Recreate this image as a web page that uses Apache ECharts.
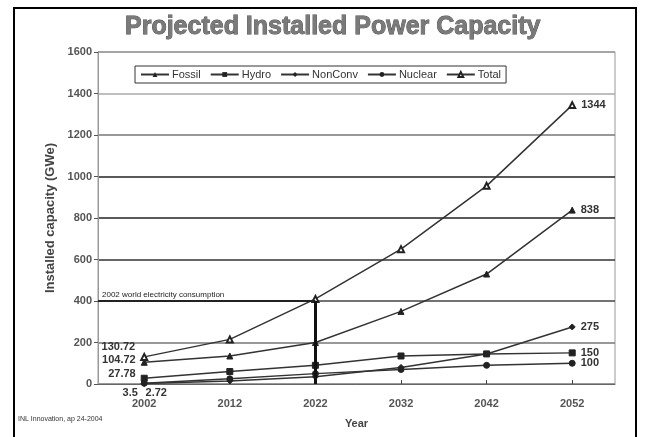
<!DOCTYPE html>
<html>
<head>
<meta charset="utf-8">
<script src="https://cdn.jsdelivr.net/npm/echarts@6/dist/echarts.min.js"></script>
<style>
html, body { margin: 0; padding: 0; background: #fff; }
#ct1 { width: 648px; height: 437px; }
</style>
</head>
<body>
<div id="ct1"></div>
<script>
var years = [2002, 2012, 2022, 2032, 2042, 2052];
var seriesNames = ['Fossil', 'Hydro', 'NonConv', 'Nuclear', 'Total'];
var fossil = [104.72, 135, 200, 350, 530, 838];
var hydro = [27.78, 60, 90, 135, 145, 150];
var nonConv = [2.72, 15, 35, 80, 145, 275];
var nuclear = [3.5, 25, 50, 70, 90, 100];
var total = [130.72, 215, 410, 650, 955, 1344];
var refValue = 400;
var refYear = 2022;
var refText = '2002 world electricity consumption';

var symbols = ['triangle', 'rect', 'diamond', 'circle', 'emptyTriangle'];
var startPos = ['left', 'left', 'bottom', 'bottom', 'left'];
var startOffset = [[0, -2], [0, -4], [12, -4], [-14, -4], [0, -10]];

function mkSeries(name, vals, i) {
	var data = [];
	for (var k = 0; k < years.length; k++) {
		var item = { value: [years[k], vals[k]] };
		if (k == 0) {
			item.label = { show: true, position: startPos[i], offset: startOffset[i], formatter: String(vals[k]) };
		} else if (k == years.length - 1) {
			item.label = { show: true, position: 'right', formatter: String(vals[k]) };
		}
		data.push(item);
	}
	return {
		name: name,
		type: 'line',
		data: data,
		symbol: symbols[i],
		symbolSize: 6,
		showAllSymbol: true,
		itemStyle: { color: '#222', borderColor: '#222' },
		lineStyle: { color: '#333', width: 1.5 },
		label: { color: '#333', fontSize: 11, fontWeight: 'bold', fontFamily: 'Liberation Sans' },
		z: 3
	};
}

var series = [
	mkSeries('Fossil', fossil, 0),
	mkSeries('Hydro', hydro, 1),
	mkSeries('NonConv', nonConv, 2),
	mkSeries('Nuclear', nuclear, 3),
	mkSeries('Total', total, 4)
];

series[0].markLine = {
	symbol: 'none',
	silent: true,
	lineStyle: { type: 'solid' },
	data: [
		[{ coord: [1996.6, refValue], lineStyle: { color: '#222', width: 2, type: 'solid' },
		   label: { show: true, position: 'insideStartTop', formatter: refText, fontSize: 8, color: '#222', distance: [4, 2] } },
		 { coord: [refYear, refValue] }],
		[{ coord: [refYear, 0], lineStyle: { color: '#111', width: 3, type: 'solid' }, label: { show: false } },
		 { coord: [refYear, refValue] }]
	]
};

var option1 = {
	backgroundColor: '#fff',
	animation: false,
	textStyle: { fontFamily: 'Liberation Sans' },
	title: {
		text: 'Projected Installed Power Capacity',
		left: 120,
		top: 10,
		textStyle: { fontSize: 25, fontWeight: 'bold', color: '#7a7a7a', fontFamily: 'Liberation Sans',
			textBorderColor: '#444', textBorderWidth: 0.8 }
	},
	legend: {
		data: seriesNames,
		left: 135,
		top: 66,
		borderColor: '#333',
		borderWidth: 1,
		padding: [3, 5],
		itemGap: 9,
		itemWidth: 28,
		itemHeight: 6,
		textStyle: { fontSize: 11, color: '#333', padding: [0, 0, 0, -2] }
	},
	grid: {
		left: 98, right: 33, top: 52, bottom: 53,
		show: true, borderColor: '#999', borderWidth: 1
	},
	xAxis: {
		type: 'value',
		min: 1996.6,
		max: 2057,
		name: 'Year',
		nameLocation: 'middle',
		nameGap: 34,
		nameTextStyle: { fontSize: 11, color: '#444', fontWeight: 'bold' },
		axisLine: { lineStyle: { color: '#666' } },
		axisTick: { customValues: years, length: 4, inside: true, lineStyle: { color: '#444' } },
		axisLabel: { customValues: years, fontSize: 11, fontWeight: 'bold', color: '#555', margin: 14,
			formatter: function (v) { return String(v); } },
		splitLine: { show: false }
	},
	yAxis: {
		type: 'value',
		min: 0,
		max: 1600,
		interval: 200,
		name: 'Installed capacity (GWe)',
		nameLocation: 'middle',
		nameGap: 36,
		nameTextStyle: { fontSize: 13, color: '#444', fontWeight: 'bold' },
		axisLine: { show: true, lineStyle: { color: '#999' } },
		axisTick: { show: true, length: 4, lineStyle: { color: '#555' } },
		axisLabel: { fontSize: 11, fontWeight: 'bold', color: '#555', margin: 6,
			formatter: function (v) { return String(v); } },
		splitLine: { lineStyle: { color: ['#888', '#777', '#444', '#333', '#222', '#222', '#777', '#aaa', '#999'], width: 1.5 } }
	},
	graphic: [
		{ type: 'rect', shape: { x: 14, y: 8, width: 622, height: 440 }, style: { fill: 'none', stroke: '#000', lineWidth: 2 }, silent: true },
		{ type: 'text', left: 18, top: 416, style: { text: 'INL Innovation, ap 24-2004', fontSize: 7, fill: '#333', fontFamily: 'Liberation Sans' } }
	],
	series: series
};

var myChart1 = echarts.init(document.getElementById('ct1'));
myChart1.setOption(option1, true);
</script>
</body>
</html>
